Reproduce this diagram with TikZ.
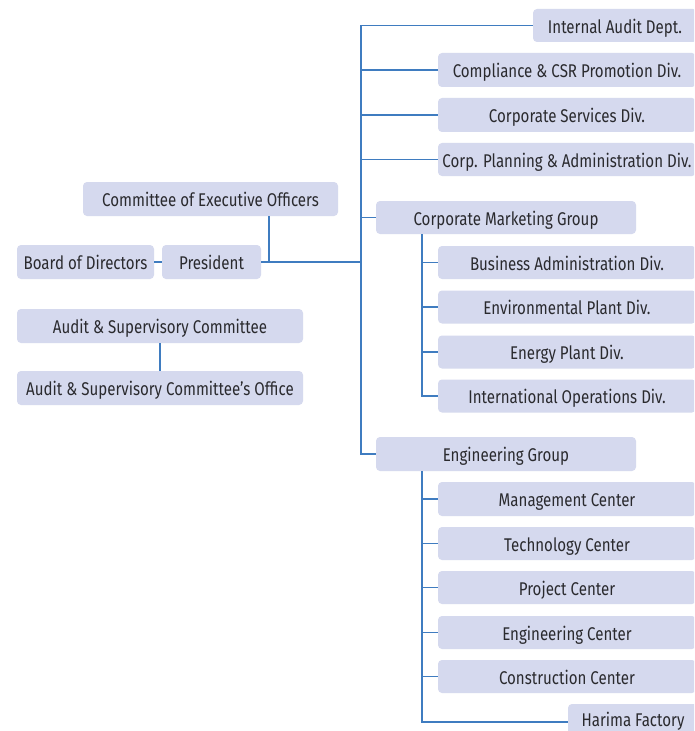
\documentclass[tikz,border=0pt]{standalone}
\usepackage{fontspec}
\setmainfont[FakeStretch=0.82]{Fira Sans}
\definecolor{boxc}{HTML}{D5D9EE}
\definecolor{linec}{HTML}{3F7CC0}
\definecolor{txtc}{HTML}{2A2A2E}
\def\pxu{0.75pt}
\begin{document}
\begin{tikzpicture}[x=0.75pt,y=-0.75pt,
  box/.style={fill=boxc,draw=none,rounded corners=3pt,inner sep=0pt,text=txtc,font=\fontsize{13.8}{16}\selectfont,text height=12.4pt,text depth=0.7pt,minimum height=34*\pxu},
  conn/.style={draw=linec,line width=0.9pt}]
\clip (0,0) rectangle (694,731);
\fill[white] (0,0) rectangle (694,731);
% right column
\node[box,minimum width=164*\pxu,minimum height=33*\pxu] (ia) at (615,25.5) {Internal Audit Dept.};
\node[box,minimum width=258*\pxu] (comp) at (567,70) {Compliance \& CSR Promotion Div.};
\node[box,minimum width=258*\pxu] (cs) at (567,115) {Corporate Services Div.};
\node[box,minimum width=258*\pxu,minimum height=33*\pxu] (cp) at (567,159.5) {Corp. Planning \& Administration Div.};
\node[box,minimum width=260*\pxu,minimum height=33*\pxu] (cmg) at (506,217.5) {Corporate Marketing Group};
\node[box,minimum width=258*\pxu,minimum height=33*\pxu] (ba) at (567,262.5) {Business Administration Div.};
\node[box,minimum width=258*\pxu,minimum height=33*\pxu] (env) at (567,307) {Environmental Plant Div.};
\node[box,minimum width=258*\pxu,minimum height=33*\pxu] (en) at (567,352) {Energy Plant Div.};
\node[box,minimum width=258*\pxu,minimum height=33*\pxu] (intl) at (567,396) {International Operations Div.};
\node[box,minimum width=260*\pxu] (eg) at (506,454) {Engineering Group};
\node[box,minimum width=258*\pxu] (mc) at (567,499) {Management Center};
\node[box,minimum width=258*\pxu,minimum height=33*\pxu] (tc) at (567,543.5) {Technology Center};
\node[box,minimum width=258*\pxu,minimum height=33*\pxu] (pc) at (567,587.5) {Project Center};
\node[box,minimum width=258*\pxu,minimum height=33*\pxu] (ec) at (567,632.5) {Engineering Center};
\node[box,minimum width=258*\pxu,minimum height=33*\pxu] (cc) at (567,676.5) {Construction Center};
\node[box,minimum width=130*\pxu,minimum height=36*\pxu,text depth=6.4pt] (hf) at (633,722) {Harima Factory};
% left column
\node[box,minimum width=255*\pxu] (ceo) at (210.5,199) {Committee of Executive Officers};
\node[box,minimum width=137*\pxu] (bod) at (85.5,262) {Board of Directors};
\node[box,minimum width=99*\pxu] (pres) at (211.5,262) {President};
\node[box,minimum width=286*\pxu] (asc) at (160,326) {Audit \& Supervisory Committee};
\node[box,minimum width=286*\pxu] (aso) at (160,388) {Audit \& Supervisory Committee’s Office};
% helper coordinates
\coordinate (tx) at (361,0);
\coordinate (sx) at (422,0);
\coordinate (cvx) at (269,0);
% connectors
\draw[conn] (ia.west) -- (ia.west -| tx) -- (eg.west -| tx) -- (eg.west);
\draw[conn] (comp.west) -- (comp.west -| tx);
\draw[conn] (cs.west) -- (cs.west -| tx);
\draw[conn] (cp.west) -- (cp.west -| tx);
\draw[conn] (cmg.west) -- (cmg.west -| tx);
\draw[conn] (pres.east) -- (pres.east -| tx);
\draw[conn] (ceo.south -| cvx) -- (pres.east -| cvx);
\draw[conn] (bod.east) -- (pres.west);
\draw[conn] (asc.south) -- (aso.north);
\draw[conn] (cmg.south -| sx) -- (intl.west -| sx) -- (intl.west);
\draw[conn] (ba.west) -- (ba.west -| sx);
\draw[conn] (env.west) -- (env.west -| sx);
\draw[conn] (en.west) -- (en.west -| sx);
\draw[conn] (eg.south -| sx) -- (hf.west -| sx) -- (hf.west);
\draw[conn] (mc.west) -- (mc.west -| sx);
\draw[conn] (tc.west) -- (tc.west -| sx);
\draw[conn] (pc.west) -- (pc.west -| sx);
\draw[conn] (ec.west) -- (ec.west -| sx);
\draw[conn] (cc.west) -- (cc.west -| sx);
\end{tikzpicture}
\end{document}
